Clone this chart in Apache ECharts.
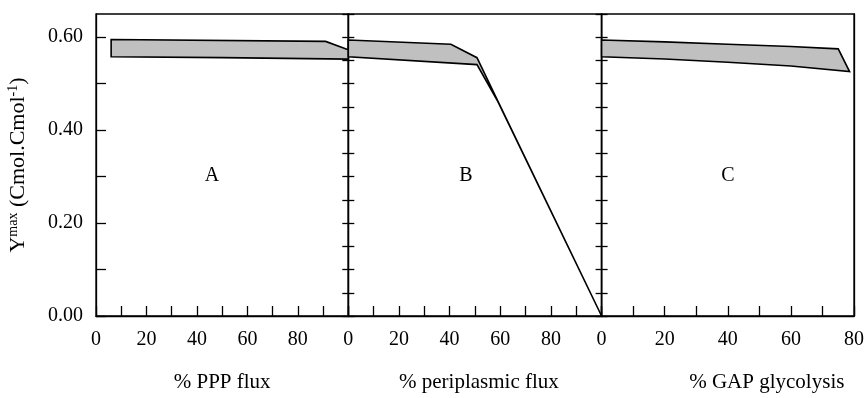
<!DOCTYPE html>
<html>
<head>
<meta charset="utf-8">
<script src="https://cdn.jsdelivr.net/npm/echarts@6/dist/echarts.min.js"></script>
<style>
  html, body { margin: 0; padding: 0; background: #fff; }
  #chart { width: 867px; height: 398px; }
</style>
</head>
<body>
<div id="chart"></div>
<script>
// band edges, [x, Ymax]
const upperA = [[6, 0.595], [91, 0.591], [100, 0.573]];
const lowerA = [[6, 0.558], [50, 0.556], [100, 0.553]];
const upperB = [[0, 0.594], [40.5, 0.585], [50.8, 0.556], [59, 0.463], [100, 0]];
const lowerB = [[0, 0.558], [50.8, 0.541], [59, 0.462], [100, 0]];
const upperC = [[0, 0.594], [20, 0.590], [40, 0.585], [60, 0.580], [75, 0.575], [78.6, 0.526]];
const lowerC = [[0, 0.558], [20, 0.553], [40, 0.546], [60, 0.538], [78.6, 0.526]];

const panelNames = ['A', 'B', 'C'];
const xTitles = ['% PPP flux', '% periplasmic flux', '% GAP glycolysis'];
const xMax = [100, 100, 80];
const yTicks = [0, 0.1, 0.2, 0.3, 0.4, 0.5, 0.6];
const yLabels = [0, 0.2, 0.4, 0.6];

const bands = [[upperA, lowerA], [upperB, lowerB], [upperC, lowerC]];

const FONT = "'Liberation Serif', 'Times New Roman', serif";
const chart = echarts.init(document.getElementById('chart'));

const gridLeft = [96, 348.3, 601.6];
const gridWidth = [252.3, 253.3, 253.4];
const lineStyle = { color: '#000', width: 1.3 };

const grids = gridLeft.map((l, i) => ({
  left: l, width: gridWidth[i], top: 14, bottom: 79,
  show: true, borderColor: '#000', borderWidth: 1.3
}));

const xAxes = xMax.map((mx, i) => ({
  type: 'value', gridIndex: i, min: 0, max: mx, interval: 10,
  axisLine: { lineStyle },
  axisTick: { inside: true, length: 10, lineStyle },
  splitLine: { show: false },
  axisLabel: {
    margin: 14, color: '#000', fontFamily: FONT, fontSize: 20,
    formatter: v => (v % 20 === 0 && (i === 2 || v < 100)) ? String(v) : ''
  },
  name: xTitles[i], nameLocation: 'middle', nameGap: 56,
  nameTextStyle: {
    color: '#000', fontFamily: FONT, fontSize: 21,
    padding: i === 2 ? [0, 0, 0, 78] : (i === 1 ? [0, 0, 0, 8] : 0)
  }
}));

const yBase = { type: 'value', min: 0, max: 0.65, splitLine: { show: false }, axisLine: { lineStyle } };
const yAxes = [
  Object.assign({}, yBase, {
    gridIndex: 0, position: 'left',
    axisTick: { inside: true, length: 10, lineStyle, customValues: yTicks },
    axisLabel: {
      margin: 13, color: '#000', fontFamily: FONT, fontSize: 20,
      customValues: yLabels, formatter: v => v.toFixed(2)
    },
    name: '{n|Y}{s|max}{n| (Cmol.Cmol}{s|-1}{n|)}',
    nameLocation: 'middle', nameGap: 66,
    nameTextStyle: {
      padding: [0, 0, 0, 0],
      rich: {
        n: { fontFamily: FONT, fontSize: 22, color: '#000', lineHeight: 24 },
        s: { fontFamily: FONT, fontSize: 14, color: '#000', verticalAlign: 'top', lineHeight: 24 }
      }
    }
  }),
  Object.assign({}, yBase, { gridIndex: 0, position: 'right', interval: 0.05,
    axisTick: { inside: false, length: 6, lineStyle }, axisLabel: { show: false } }),
  Object.assign({}, yBase, { gridIndex: 1, position: 'left', interval: 0.05,
    axisTick: { inside: false, length: 6, lineStyle }, axisLabel: { show: false } }),
  Object.assign({}, yBase, { gridIndex: 1, position: 'right', interval: 0.05,
    axisTick: { inside: false, length: 6, lineStyle }, axisLabel: { show: false } }),
  Object.assign({}, yBase, { gridIndex: 2, position: 'left', interval: 0.05,
    axisTick: { inside: false, length: 6, lineStyle }, axisLabel: { show: false } }),
  Object.assign({}, yBase, { gridIndex: 2, position: 'right',
    axisTick: { show: false }, axisLabel: { show: false } })
];
const yIdx = [0, 2, 4];

const series = bands.map(([up, lo], i) => ({
  type: 'custom',
  xAxisIndex: i, yAxisIndex: yIdx[i],
  data: [up[0]],
  silent: true,
  renderItem: (params, api) => {
    const pts = up.map(p => api.coord(p))
      .concat(lo.slice().reverse().map(p => api.coord(p)));
    return {
      type: 'polygon',
      shape: { points: pts },
      style: { fill: '#c0c0c0', stroke: '#000', lineWidth: 1.6, lineJoin: 'miter' }
    };
  }
}));

const letterX = [212, 466, 728];
const graphic = panelNames.map((t, i) => ({
  type: 'text', x: letterX[i], y: 176,
  style: { text: t, fill: '#000', font: '20px ' + FONT, textAlign: 'center', textVerticalAlign: 'middle' }
}));

chart.setOption({
  animation: false,
  grid: grids,
  xAxis: xAxes,
  yAxis: yAxes,
  series,
  graphic
});
</script>
</body>
</html>
